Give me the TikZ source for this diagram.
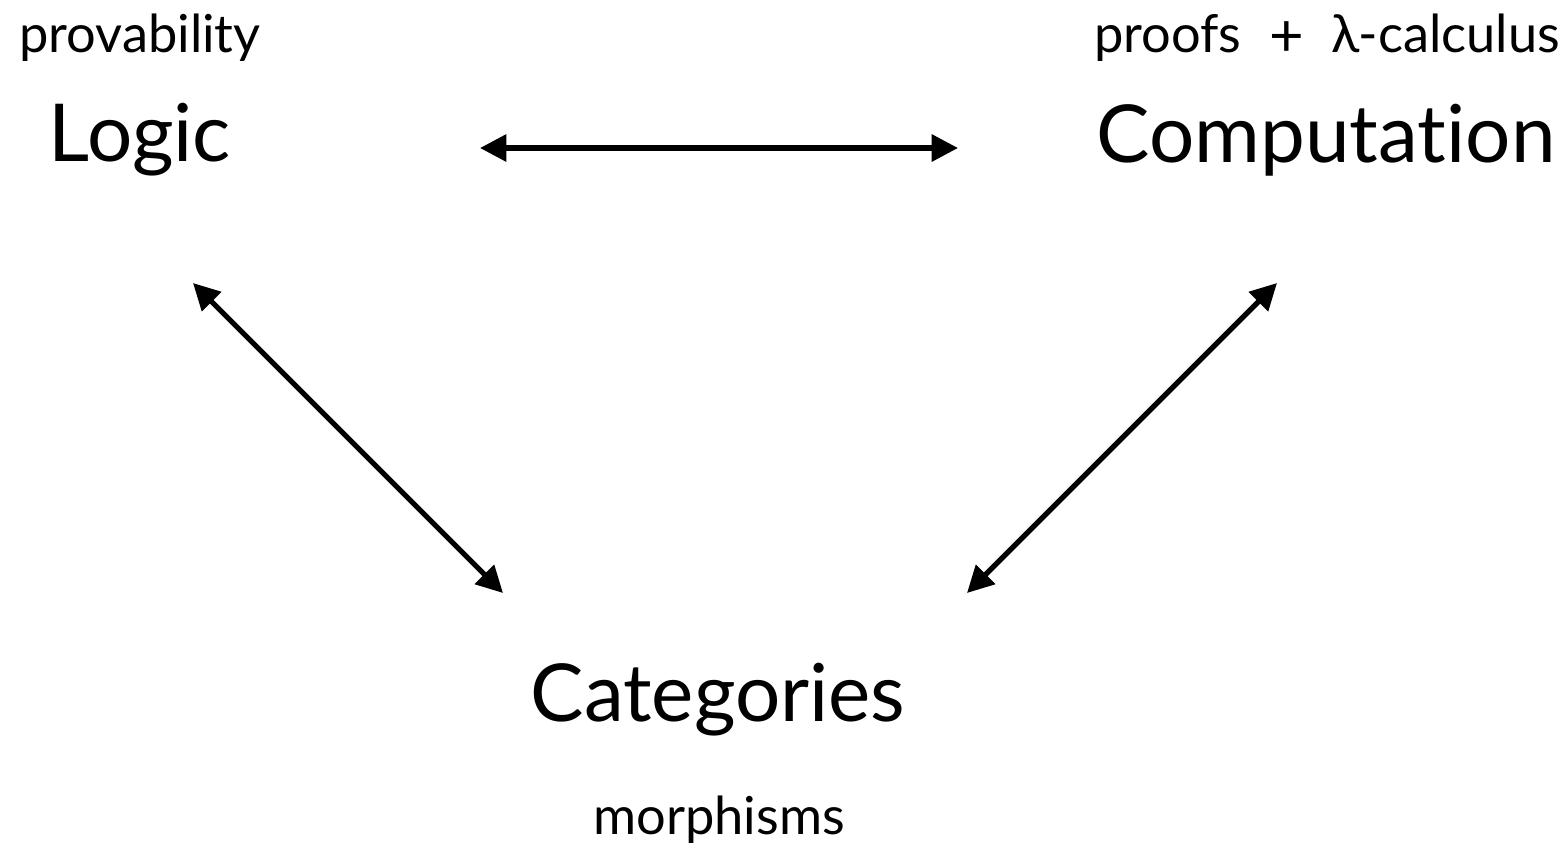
\documentclass[tikz,border=0pt]{standalone}
\usepackage{fontspec}
\setmainfont[Ligatures=NoCommon]{Lato}
\usepackage{tikz}
\usetikzlibrary{arrows.meta, positioning, calc}

\tikzset{
	bigword/.style={inner sep=0pt, font=\fontsize{45.5}{50}\selectfont},
	smallword/.style={inner sep=0pt, font=\fontsize{29.8}{33}\selectfont},
	link/.style={line width=3pt, {Triangle[length=15pt,width=15pt]}-{Triangle[length=15pt,width=15pt]}}
}

\begin{document}
\begin{tikzpicture}
				\useasboundingbox (0,0) rectangle (31.32,-16.96);
				% main words
				\node[bigword] (logic) at (2.8,-2.8) {Logic};
				\node[bigword] (comp) at (26.52,-2.8) {Computation};
				\node[bigword] (cat) at (14.36,-14.0) {Categories};
				% small words
				\node[smallword] (prov) at (2.8,-0.76) {provability};
				\node[smallword] (proofs) at (26.54,-0.76) {proofs \;{\fontsize{34}{34}\selectfont\raisebox{-0.06em}{+}}\; λ-calculus};
				\node[smallword] (morph) at (14.38,-16.4) {morphisms};
				% arrow ends
				\coordinate (lc-a) at (9.6,-2.96);
				\coordinate (lc-b) at (19.16,-2.96);
				\coordinate (lk-a) at (3.86,-5.66);
				\coordinate (lk-b) at (10.06,-11.86);
				\coordinate (ck-a) at (25.54,-5.66);
				\coordinate (ck-b) at (19.34,-11.86);
				\draw[link] (lc-a)--(lc-b);
				\draw[link] (lk-a)--(lk-b);
				\draw[link] (ck-a)--(ck-b);
			\end{tikzpicture}
\end{document}
